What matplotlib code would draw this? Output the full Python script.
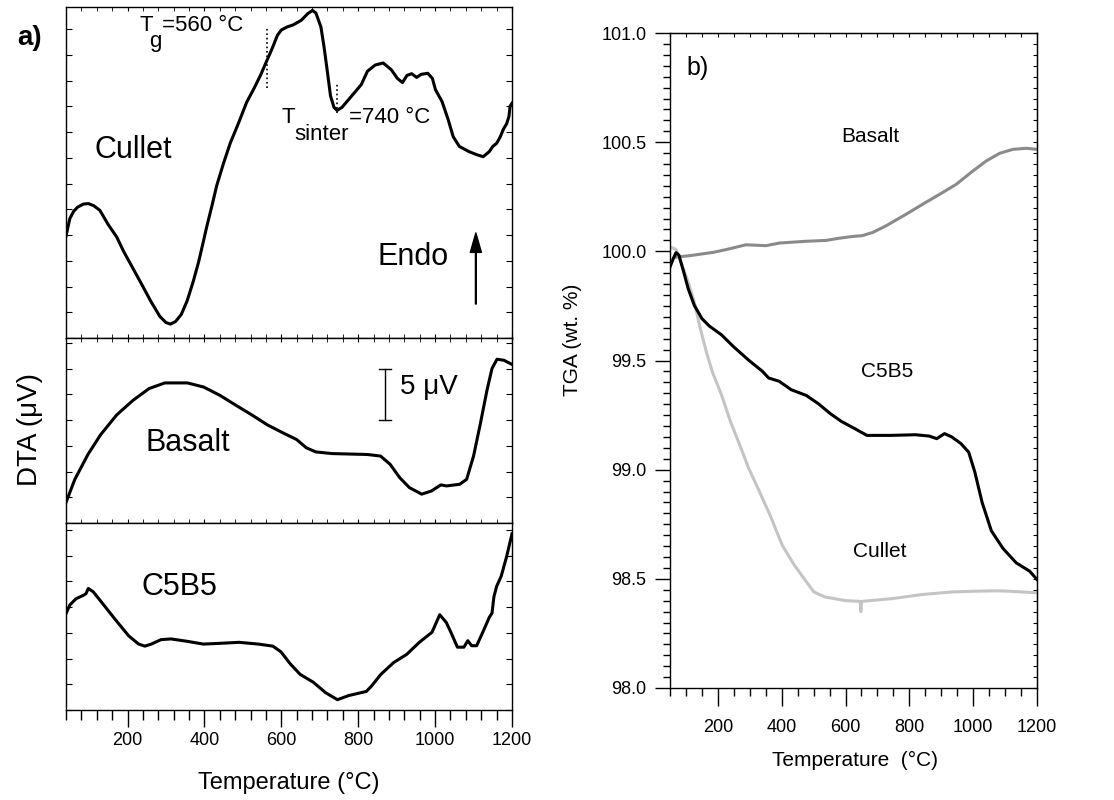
import matplotlib.pyplot as plt
from matplotlib.ticker import MultipleLocator, NullFormatter

plt.rcParams['font.family'] = ['Liberation Sans', 'DejaVu Sans']

# --- DTA data (temperature in C, signal in uV above panel bottom) ---
cullet_dta_t = [40, 50, 60, 70, 85, 98, 112, 128, 150, 172, 190, 215, 240, 260, 284, 300, 312, 325,
                340, 355, 371, 385, 395, 406, 420, 432, 450, 467, 488, 510, 530, 547, 562, 575,
                590, 600, 615, 631, 652, 669, 681, 690, 703, 711, 720, 728, 737, 745, 758, 783,
                808, 824, 844, 865, 886, 902, 915, 927, 939, 952, 964, 981, 993, 1001, 1018,
                1034, 1047, 1063, 1088, 1108, 1125, 1141, 1150, 1160, 1169, 1178, 1186, 1192,
                1195, 1200]
cullet_dta_v = [9.9, 11.6, 12.3, 12.7, 13.0, 13.05, 12.85, 12.4, 11.0, 9.8, 8.4, 6.7, 5.0, 3.6, 2.1,
                1.5, 1.35, 1.6, 2.3, 3.6, 5.5, 7.4, 9.0, 10.8, 12.9, 14.8, 17.0, 18.9, 20.8, 22.9,
                24.3, 25.6, 26.9, 28.0, 29.4, 29.9, 30.2, 30.4, 30.85, 31.5, 31.8, 31.55, 30.2,
                28.3, 25.8, 23.5, 22.4, 22.1, 22.4, 23.5, 24.6, 25.9, 26.5, 26.7, 26.05, 25.2,
                24.8, 25.5, 25.66, 25.3, 25.6, 25.7, 25.2, 24.1, 22.96, 21.2, 19.55, 18.6, 18.1,
                17.8, 17.6, 18.1, 18.6, 18.9, 19.5, 20.3, 20.8, 21.5, 22.5, 22.8]

basalt_dta_t = [40, 63, 97, 130, 172, 214, 256, 297, 356, 398, 440, 481, 523, 565, 607, 640, 665,
                690, 732, 774, 824, 858, 883, 908, 933, 965, 990, 1015, 1030, 1064, 1082, 1100,
                1118, 1135, 1148, 1161, 1179, 1200]
basalt_dta_v = [2.0, 4.24, 6.65, 8.57, 10.5, 11.9, 13.05, 13.6, 13.6, 13.2, 12.4, 11.45, 10.5, 9.5,
                8.7, 8.1, 7.3, 6.9, 6.74, 6.7, 6.65, 6.5, 5.7, 4.4, 3.44, 2.8, 3.1, 3.7, 3.6, 3.76,
                4.24, 6.5, 9.7, 12.9, 15.0, 15.9, 15.8, 15.4]

c5b5_dta_t = [40, 50, 66, 86, 92, 98, 111, 136, 170, 203, 229, 245, 262, 287, 313, 355, 397, 439,
              490, 540, 578, 599, 624, 649, 683, 716, 746, 775, 821, 834, 859, 892, 926, 959, 992,
              1012, 1029, 1041, 1058, 1075, 1085, 1095, 1108, 1124, 1141, 1148, 1153, 1160, 1172,
              1186, 1200]
c5b5_dta_v = [9.35, 10.2, 10.8, 11.15, 11.3, 11.8, 11.47, 10.3, 8.7, 7.2, 6.4, 6.2, 6.4, 6.83, 6.9,
              6.67, 6.4, 6.47, 6.57, 6.4, 6.2, 5.65, 4.45, 3.46, 2.7, 1.66, 1.0, 1.4, 1.8, 2.3, 3.46,
              4.6, 5.4, 6.57, 7.55, 9.25, 8.5, 7.55, 6.1, 6.1, 6.73, 6.24, 6.24, 7.55, 9.0, 9.4,
              11.0, 12.0, 13.0, 14.9, 17.1]

# --- TGA data (temperature in C, mass in wt. %) ---
basalt_tga_t = [66, 111, 184, 226, 288, 351, 393, 476, 539, 580, 622, 653, 686, 727, 790, 842,
                905, 947, 999, 1041, 1083, 1124, 1166, 1200]
basalt_tga_v = [99.973, 99.98, 99.995, 100.008, 100.03, 100.026, 100.038, 100.046, 100.05, 100.06,
                100.068, 100.072, 100.087, 100.117, 100.17, 100.216, 100.27, 100.307, 100.368,
                100.414, 100.449, 100.467, 100.472, 100.467]

c5b5_tga_t = [50, 60, 69, 78, 93, 107, 126, 150, 173, 211, 250, 297, 340, 359, 392, 430, 477, 515,
              553, 587, 629, 667, 743, 819, 862, 886, 910, 933, 962, 986, 1005, 1028, 1057, 1075,
              1093, 1135, 1177, 1200]
c5b5_tga_v = [99.928, 99.966, 99.994, 99.982, 99.905, 99.829, 99.753, 99.692, 99.658, 99.618,
              99.562, 99.501, 99.45, 99.42, 99.405, 99.366, 99.34, 99.302, 99.256, 99.221, 99.188,
              99.157, 99.157, 99.16, 99.154, 99.142, 99.165, 99.15, 99.119, 99.08, 98.99, 98.85,
              98.72, 98.68, 98.64, 98.573, 98.535, 98.497]

cullet_tga_t = [50, 69, 88, 107, 126, 145, 164, 183, 212, 240, 269, 297, 326, 364, 402, 440, 478,
                501, 535, 601, 646, 648, 650, 652, 744, 839, 934, 1000, 1067, 1103, 1200]
cullet_tga_v = [100.02, 100.009, 99.936, 99.86, 99.768, 99.646, 99.539, 99.447, 99.34, 99.218,
                99.111, 99.005, 98.913, 98.79, 98.653, 98.562, 98.485, 98.44, 98.417, 98.40,
                98.397, 98.35, 98.395, 98.397, 98.409, 98.428, 98.44, 98.443, 98.445, 98.444,
                98.436]

W, H = 1114, 800
fig = plt.figure(figsize=(W / 100, H / 100), dpi=100)


def px_rect(x0, y0, x1, y1):
    return [x0 / W, 1 - y1 / H, (x1 - x0) / W, (y1 - y0) / H]


def ftext(x, y, s, **kw):
    fig.text(x / W, 1 - y / H, s, **kw)


scale = 10.3  # px per uV
ax1 = fig.add_axes(px_rect(66, 7, 512, 338))
ax2 = fig.add_axes(px_rect(66, 338, 512, 523))
ax3 = fig.add_axes(px_rect(66, 523, 512, 710))

for ax, (top, bot) in zip([ax1, ax2, ax3], [(7, 338), (338, 523), (523, 710)]):
    ax.set_xlim(40, 1200)
    ax.set_ylim(0, (bot - top) / scale)
    ax.yaxis.set_major_locator(MultipleLocator(2.5))
    ax.yaxis.set_major_formatter(NullFormatter())
    ax.tick_params(axis='y', direction='in', left=True, right=True, length=4, width=0.8)
    ax.xaxis.set_major_locator(MultipleLocator(200))
    ax.xaxis.set_minor_locator(MultipleLocator(40))
    for s in ax.spines.values():
        s.set_linewidth(1.0)

for ax in [ax1, ax2]:
    ax.tick_params(axis='x', which='both', direction='in', top=True, bottom=True, length=3,
                   labelbottom=False)

ax3.tick_params(axis='x', which='major', direction='out', length=12, width=1.0, top=False,
                labelsize=13, pad=4)
ax3.tick_params(axis='x', which='minor', direction='out', length=7, width=1.0, top=False)
ax3.xaxis.set_ticks([200, 400, 600, 800, 1000, 1200])

lw = 2.2
ax1.plot(cullet_dta_t, cullet_dta_v, color='black', lw=lw, solid_joinstyle='round')
ax2.plot(basalt_dta_t, basalt_dta_v, color='black', lw=lw, solid_joinstyle='round')
ax3.plot(c5b5_dta_t, c5b5_dta_v, color='black', lw=lw, solid_joinstyle='round')

# glass transition / sintering markers
ax1.plot([562, 562], [(338 - 88) / scale, (338 - 27) / scale], color='black', lw=1.2, ls=':')
ax1.plot([745, 745], [(338 - 113) / scale, (338 - 83) / scale], color='black', lw=1.2, ls=':')
ax1.text(214, 18.25, 'Cullet', fontsize=22, ha='center', va='center')
ax1.text(943, 7.9, 'Endo', fontsize=22, ha='center', va='center')
ax1.annotate('', xy=(1106, 10.2), xytext=(1106, 3.3),
             arrowprops=dict(facecolor='black', edgecolor='black', width=0.6, headwidth=8,
                             headlength=14))

ftext(139, 31, 'T', fontsize=16, va='baseline')
ftext(149, 47, 'g', fontsize=16, va='baseline')
ftext(162, 31, '=560 °C', fontsize=16, va='baseline')
ftext(281, 123, 'T', fontsize=16, va='baseline')
ftext(294, 140, 'sinter', fontsize=16, va='baseline')
ftext(349, 123, '=740 °C', fontsize=16, va='baseline')

ax2.text(357, 7.8, 'Basalt', fontsize=22, ha='center', va='center')
ax2.plot([870, 870], [10.0, 15.0], color='black', lw=1.0)
ax2.plot([855, 885], [10.0, 10.0], color='black', lw=1.0)
ax2.plot([855, 885], [15.0, 15.0], color='black', lw=1.0)
ax2.text(910, 13.2, '5 μV', fontsize=20, ha='left', va='center')

ax3.text(336, 11.9, 'C5B5', fontsize=22, ha='center', va='center')

ftext(289, 783, 'Temperature (°C)', fontsize=17, ha='center', va='center')
ftext(30, 430, 'DTA (μV)', fontsize=20, ha='center', va='center', rotation=90)
ftext(30, 38, 'a)', fontsize=20, fontweight='bold', ha='center', va='center')

# --- TGA panel ---
axr = fig.add_axes(px_rect(670, 33, 1037, 688))
axr.set_xlim(50, 1200)
axr.set_ylim(98.0, 101.0)
axr.plot(basalt_tga_t, basalt_tga_v, color='#8a8a8a', lw=lw)
axr.plot(cullet_tga_t, cullet_tga_v, color='#c4c4c4', lw=lw)
axr.plot(c5b5_tga_t, c5b5_tga_v, color='black', lw=lw)
axr.xaxis.set_major_locator(MultipleLocator(200))
axr.xaxis.set_minor_locator(MultipleLocator(50))
axr.set_xticks([200, 400, 600, 800, 1000, 1200])
axr.yaxis.set_major_locator(MultipleLocator(0.5))
axr.yaxis.set_minor_locator(MultipleLocator(0.05))
axr.yaxis.set_major_formatter(plt.FormatStrFormatter('%.1f'))
axr.tick_params(axis='x', which='major', direction='out', length=13, width=1.0, labelsize=13, pad=9)
axr.tick_params(axis='x', which='minor', direction='out', length=6, width=1.0)
axr.tick_params(axis='y', which='major', direction='out', length=11, width=1.0, labelsize=13, pad=6)
axr.tick_params(axis='y', which='minor', direction='out', length=5, width=1.0)
for s in axr.spines.values():
    s.set_linewidth(1.0)
sec_y = axr.secondary_yaxis('right')
sec_y.yaxis.set_major_locator(MultipleLocator(0.05))
sec_y.tick_params(direction='in', length=3, width=0.8, labelright=False)
sec_x = axr.secondary_xaxis('top')
sec_x.xaxis.set_major_locator(MultipleLocator(50))
sec_x.tick_params(direction='in', length=3, width=0.8, labeltop=False)

axr.text(677, 100.525, 'Basalt', fontsize=15, ha='center', va='center')
axr.text(730, 99.449, 'C5B5', fontsize=15, ha='center', va='center')
axr.text(708, 98.624, 'Cullet', fontsize=15, ha='center', va='center')
axr.text(100, 100.84, 'b)', fontsize=18, ha='left', va='center')

ftext(855, 760, 'Temperature  (°C)', fontsize=15, ha='center', va='center')
ftext(572, 340, 'TGA (wt. %)', fontsize=15, ha='center', va='center', rotation=90)

fig.savefig('out.png', dpi=100)
